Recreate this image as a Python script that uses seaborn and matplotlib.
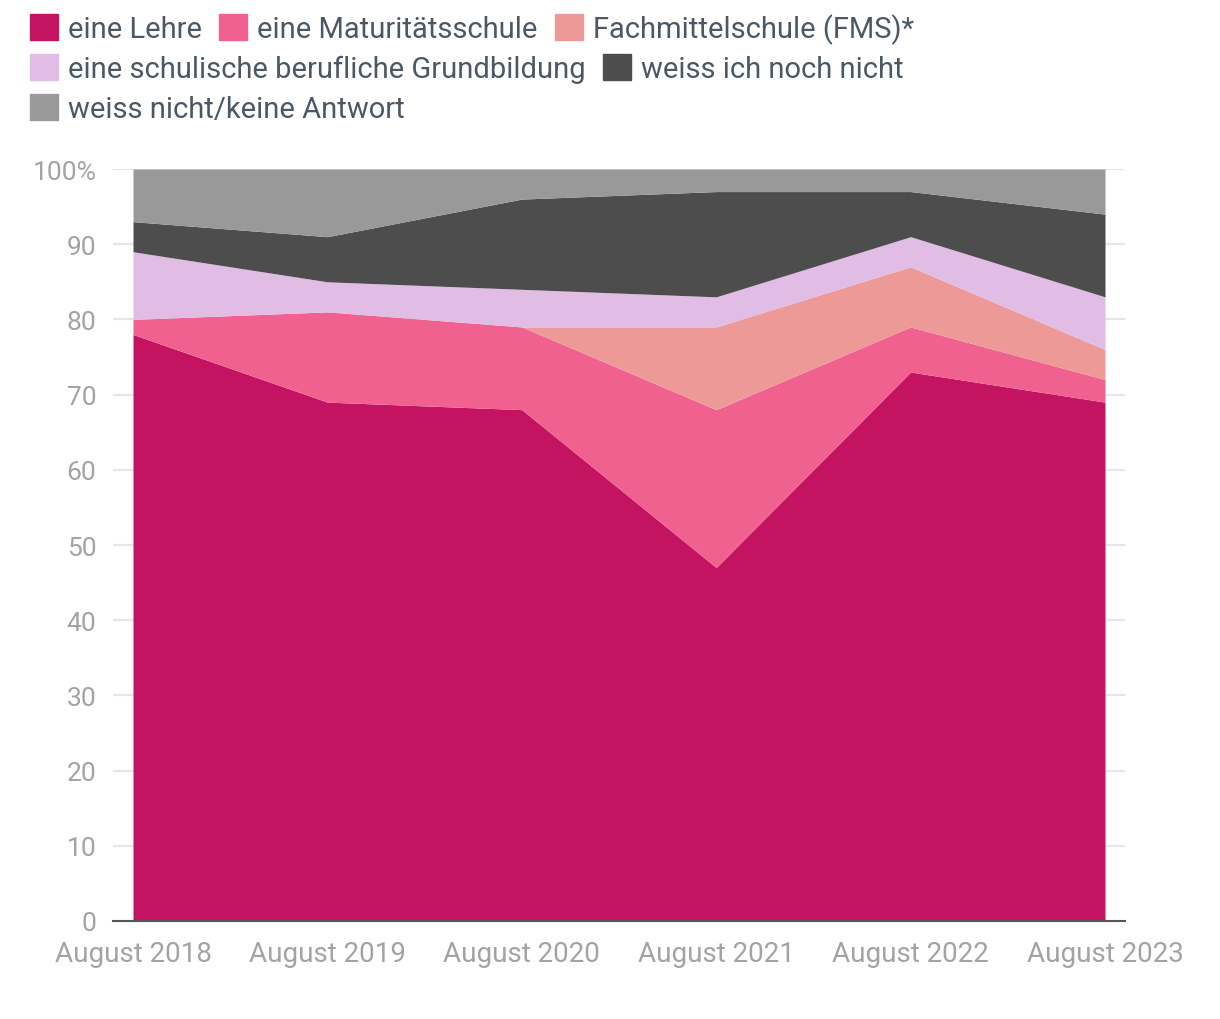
import pandas as pd
import matplotlib.pyplot as plt
import matplotlib.patches as mpatches
from matplotlib import font_manager
import seaborn as sns

# --- data (percent) ---
years = ["August 2018", "August 2019", "August 2020", "August 2021", "August 2022", "August 2023"]
lehre = [78, 69, 68, 47, 73, 69]
maturitaet = [2, 12, 11, 21, 6, 3]
fms = [0, 0, 0, 11, 8, 4]
schulisch = [9, 4, 5, 4, 4, 7]
noch_nicht = [4, 6, 12, 14, 6, 11]
keine_antwort = [7, 9, 4, 3, 3, 6]

labels = ["eine Lehre", "eine Maturitätsschule", "Fachmittelschule (FMS)*",
          "eine schulische berufliche Grundbildung", "weiss ich noch nicht",
          "weiss nicht/keine Antwort"]
colors = ["#c41360", "#f06190", "#ec9998", "#e1bde6", "#4d4d4d", "#999999"]

df = pd.DataFrame({
    "year": years,
    labels[0]: lehre,
    labels[1]: maturitaet,
    labels[2]: fms,
    labels[3]: schulisch,
    labels[4]: noch_nicht,
    labels[5]: keine_antwort,
})

sns.set_theme(style="white")
available = {f.name for f in font_manager.fontManager.ttflist}
fam = [f for f in ["Liberation Sans Narrow", "Roboto", "DejaVu Sans"] if f in available]
plt.rcParams["font.family"] = fam

fig = plt.figure(figsize=(12.2, 10.2), dpi=100)
ax = fig.add_axes([113 / 1220, 1 - 922 / 1020, (1125 - 113) / 1220, (922 - 170) / 1020])

x = list(range(len(years)))
ax.stackplot(x, *[df[l] for l in labels], colors=colors, linewidth=0, zorder=2)

ax.set_xlim(-20 / 194.4, 5 + 20 / 194.4)
ax.set_ylim(0, 100)
ax.set_yticks(range(0, 101, 10))
ax.set_yticklabels([str(v) for v in range(0, 100, 10)] + ["100%"])
ax.set_xticks(x)
ax.set_xticklabels(years)
ax.tick_params(axis="both", length=0, labelcolor="#a3a3a3")
ax.tick_params(axis="y", pad=12, labelsize=19)
ax.tick_params(axis="x", pad=14, labelsize=20)
ax.grid(axis="y", color="#e6e6e6", linewidth=1.5, zorder=0)
ax.set_axisbelow(True)
sns.despine(ax=ax, left=True)
ax.spines["bottom"].set_color("#555555")
ax.spines["bottom"].set_linewidth(1.5)
ax.set_xlabel("")
ax.set_ylabel("")

# legend laid out in three rows like the original
rows = [[0, 1, 2], [3, 4], [5]]
row_y = [1 - 14 / 1020, 1 - 55 / 1020, 1 - 95 / 1020]
for r, yy in zip(rows, row_y):
    handles = [mpatches.Patch(color=colors[i], label=labels[i]) for i in r]
    leg = fig.legend(handles=handles, loc="upper left", bbox_to_anchor=(30 / 1220, yy),
                     ncol=len(r), frameon=False, fontsize=21, handlelength=0.95,
                     handleheight=1.0, handletextpad=0.35, columnspacing=0.6,
                     borderpad=0, borderaxespad=0)
    for t in leg.get_texts():
        t.set_color("#4a5866")

fig.savefig("out.png", dpi=100)
